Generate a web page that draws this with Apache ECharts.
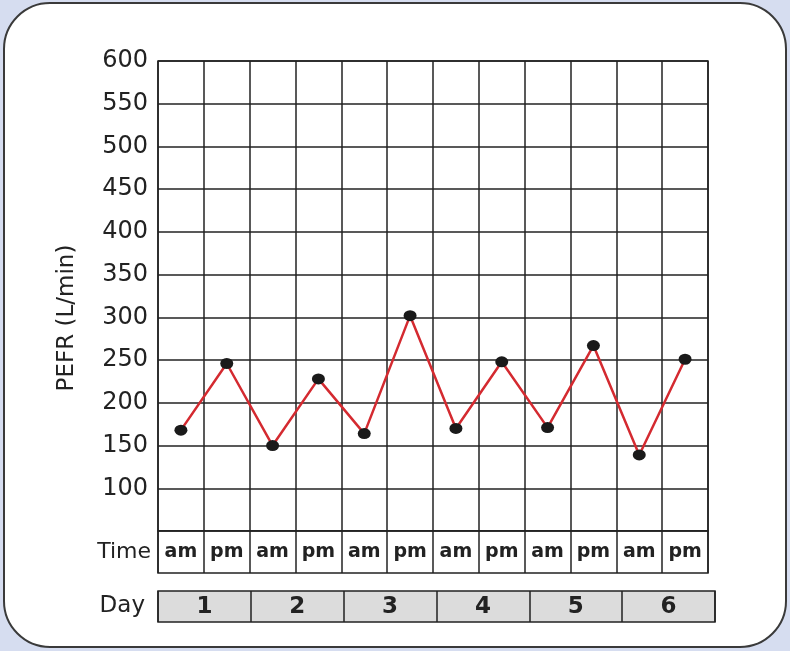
<!DOCTYPE html>
<html>
<head>
<meta charset="utf-8">
<script src="https://cdn.jsdelivr.net/npm/echarts@6/dist/echarts.min.js"></script>
<style>html,body{margin:0;padding:0;background:#d6ddf0;}#c{width:790px;height:651px;}</style>
</head>
<body>
<div id="c"></div>
<script>
const days = ['1', '2', '3', '4', '5', '6'];
const times = ['am', 'pm', 'am', 'pm', 'am', 'pm', 'am', 'pm', 'am', 'pm', 'am', 'pm'];
const pefr = [168, 246, 150, 228, 164, 302, 170, 248, 171, 267, 139, 251];
const yLabelsShown = [100, 150, 200, 250, 300, 350, 400, 450, 500, 550, 600];

const slots = times.map((t, i) => days[Math.floor(i / 2)] + ' ' + t);
const ink = '#222222';
const font = 'DejaVu Sans';

const chart = echarts.init(document.getElementById('c'));
chart.setOption({
  backgroundColor: '#d6ddf0',
  animation: false,
  graphic: [{
    type: 'rect',
    z: -100,
    silent: true,
    shape: { x: 4, y: 3, width: 782, height: 644, r: 46 },
    style: { fill: '#ffffff', stroke: '#3a3a3a', lineWidth: 2 }
  }],
  grid: [
    { left: 158, right: 82, top: 61, height: 470, show: true, borderColor: ink, borderWidth: 1.5, backgroundColor: 'transparent' },
    { left: 158, right: 82, top: 531, height: 42, show: true, borderColor: ink, borderWidth: 1.5, backgroundColor: '#ffffff' },
    { left: 158, right: 75, top: 591, height: 31, show: true, borderColor: ink, borderWidth: 1.5, backgroundColor: '#dcdcdc' }
  ],
  xAxis: [
    { gridIndex: 0, type: 'category', data: slots, boundaryGap: true,
      axisLine: { show: false }, axisTick: { show: false }, axisLabel: { show: false },
      splitLine: { show: true, lineStyle: { color: ink, width: 1.5 } } },
    { gridIndex: 1, type: 'category', data: times, boundaryGap: true,
      axisLine: { show: false }, axisTick: { show: false },
      axisLabel: { inside: true, margin: 21, verticalAlign: 'middle', fontFamily: font, fontWeight: 'bold', fontSize: 19, color: ink },
      splitLine: { show: true, lineStyle: { color: ink, width: 1.5 } } },
    { gridIndex: 2, type: 'category', data: days, boundaryGap: true,
      axisLine: { show: false }, axisTick: { show: false },
      axisLabel: { inside: true, margin: 15, verticalAlign: 'middle', fontFamily: font, fontWeight: 'bold', fontSize: 23, color: ink },
      splitLine: { show: true, lineStyle: { color: ink, width: 1.5 } } }
  ],
  yAxis: [
    { gridIndex: 0, type: 'value', min: 50, max: 600, interval: 50,
      name: 'PEFR (L/min)', nameLocation: 'middle', nameGap: 79,
      nameTextStyle: { fontFamily: font, fontSize: 23, color: ink, padding: [0, 44, 0, 0] },
      axisLine: { show: false }, axisTick: { show: false },
      axisLabel: { margin: 10, fontFamily: font, fontSize: 24, color: ink,
        formatter: v => yLabelsShown.includes(v) ? String(v) : '' },
      splitLine: { show: true, lineStyle: { color: ink, width: 1.5 } } },
    { gridIndex: 1, type: 'category', data: ['Time'],
      axisLine: { show: false }, axisTick: { show: false }, splitLine: { show: false },
      axisLabel: { margin: 7, fontFamily: font, fontSize: 22, color: ink } },
    { gridIndex: 2, type: 'category', data: ['Day'],
      axisLine: { show: false }, axisTick: { show: false }, splitLine: { show: false },
      axisLabel: { margin: 13, fontFamily: font, fontSize: 23, color: ink } }
  ],
  series: [{
    type: 'line',
    xAxisIndex: 0, yAxisIndex: 0,
    data: pefr,
    symbol: 'circle',
    symbolSize: [13, 11],
    itemStyle: { color: '#1a1a1a' },
    lineStyle: { color: '#d42a30', width: 2.5 },
    z: 5
  }]
});
</script>
</body>
</html>
